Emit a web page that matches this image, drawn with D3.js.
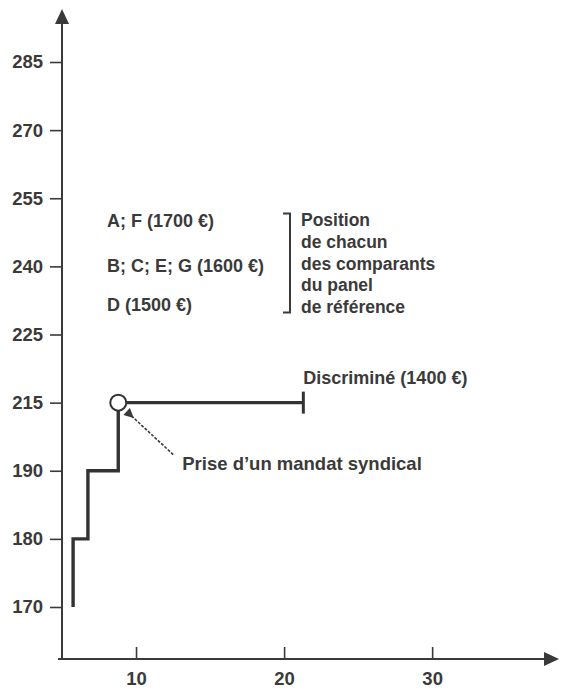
<!DOCTYPE html>
<html>
<head>
<meta charset="utf-8">
<script src="https://cdn.jsdelivr.net/npm/d3@7"></script>
<style>
  body { margin: 0; background: #fff; }
  text { font-family: "Liberation Sans", Arial, sans-serif; font-weight: bold; fill: #3a3a3a; }
</style>
</head>
<body>
<script>
    // Width and height
    var w = 562;
    var h = 690;

    // Data
    var yLevels = ["170", "180", "190", "215", "225", "240", "255", "270", "285"];
    var xTicks = [10, 20, 30];
    var careerX = [5.75, 6.75, 8.8, 21.3];
    var careerY = ["170", "180", "190", "215"];
    var panelLabels = ["A; F (1700 €)", "B; C; E; G (1600 €)", "D (1500 €)"];
    var bracketLines = ["Position", "de chacun", "des comparants", "du panel", "de référence"];
    var endLabel = "Discriminé (1400 €)";
    var mandateLabel = "Prise d’un mandat syndical";

    var ox = 62, oy = 659;

    var x = d3.scaleLinear().domain([5, 38.5]).range([ox, 558]);
    var y = d3.scalePoint().domain(yLevels).range([607, 62]);

    var svg = d3.select("body")
        .append("svg")
        .attr("width", w)
        .attr("height", h);

    svg.append("rect")
        .attr("width", w)
        .attr("height", h)
        .attr("fill", "#fff");

    var ink = "#3a3a3a";

    // Axes (ticks + labels from d3, own lines with arrows)
    var yAxis = svg.append("g")
        .attr("transform", `translate(${ox},0)`)
        .call(d3.axisLeft(y).tickSize(12).tickPadding(7));
    yAxis.select(".domain").remove();
    yAxis.selectAll("line").attr("stroke", ink).attr("stroke-width", 1.6);
    yAxis.selectAll("text").attr("font-size", 18.5).attr("fill", ink)
        .style("font-family", "'Liberation Sans', Arial, sans-serif");

    var xAxis = svg.append("g")
        .attr("transform", `translate(0,${oy})`)
        .call(d3.axisBottom(x).tickValues(xTicks).tickSizeInner(-12).tickSizeOuter(0).tickPadding(13));
    xAxis.select(".domain").remove();
    xAxis.selectAll("line").attr("stroke", ink).attr("stroke-width", 1.6);
    xAxis.selectAll("text").attr("font-size", 18.5).attr("fill", ink)
        .style("font-family", "'Liberation Sans', Arial, sans-serif");

    svg.append("line")
        .attr("x1", ox).attr("y1", oy + 1)
        .attr("x2", ox).attr("y2", 22)
        .attr("stroke", ink).attr("stroke-width", 2);
    svg.append("path")
        .attr("d", `M${ox},9 L${ox - 7},24 L${ox + 7},24 Z`)
        .attr("fill", ink);

    svg.append("line")
        .attr("x1", ox - 4).attr("y1", oy)
        .attr("x2", 546).attr("y2", oy)
        .attr("stroke", ink).attr("stroke-width", 2);
    svg.append("path")
        .attr("d", `M559,${oy} L544,${oy - 7} L544,${oy + 7} Z`)
        .attr("fill", ink);

    // Career step line
    var pts = careerX.map((d, i) => ({x: d, y: careerY[i]}));

    var line = d3.line()
        .x(d => x(d.x))
        .y(d => y(d.y))
        .curve(d3.curveStepBefore);

    svg.append("path")
        .datum(pts)
        .attr("d", line)
        .attr("fill", "none")
        .attr("stroke", "#333")
        .attr("stroke-width", 3.4);

    var last = pts[pts.length - 1];
    svg.append("line")
        .attr("x1", x(last.x)).attr("x2", x(last.x))
        .attr("y1", y(last.y) - 11).attr("y2", y(last.y) + 11)
        .attr("stroke", "#333").attr("stroke-width", 3);

    var turn = pts[2];
    svg.append("circle")
        .attr("cx", x(turn.x))
        .attr("cy", y("215"))
        .attr("r", 8)
        .attr("fill", "#fff")
        .attr("stroke", "#333")
        .attr("stroke-width", 2);

    svg.append("text")
        .attr("x", x(last.x))
        .attr("y", y("215") - 19)
        .attr("font-size", 18)
        .text(endLabel);

    // Mandate annotation with dotted arrow
    svg.append("defs").append("marker")
        .attr("id", "head")
        .attr("viewBox", "0 0 10 10")
        .attr("refX", 2).attr("refY", 5)
        .attr("markerWidth", 7).attr("markerHeight", 6)
        .attr("orient", "auto")
        .append("path")
        .attr("d", "M10,0 L0,5 L10,10 Z")
        .attr("fill", ink);

    var cx = x(turn.x), cy = y("215");
    svg.append("line")
        .attr("x1", cx + 55).attr("y1", cy + 52)
        .attr("x2", cx + 14).attr("y2", cy + 14)
        .attr("stroke", ink)
        .attr("stroke-width", 1.6)
        .attr("stroke-dasharray", "3,1.5")
        .attr("marker-end", "url(#head)");

    svg.append("text")
        .attr("x", cx + 64)
        .attr("y", cy + 67)
        .attr("font-size", 18.5)
        .text(mandateLabel);

    // Reference panel labels
    var by = y("240");
    var panelY = [by - 45, by, by + 39];
    svg.selectAll(".panel")
        .data(panelLabels)
        .enter().append("text")
        .attr("class", "panel")
        .attr("x", 107)
        .attr("y", (d, i) => panelY[i] + 6)
        .attr("font-size", 18)
        .text(d => d);

    svg.append("path")
        .attr("d", `M283,${by - 53} L290,${by - 53} L290,${by + 46} L283,${by + 46}`)
        .attr("fill", "none")
        .attr("stroke", ink)
        .attr("stroke-width", 2);

    svg.selectAll(".bracket")
        .data(bracketLines)
        .enter().append("text")
        .attr("class", "bracket")
        .attr("x", 301)
        .attr("y", (d, i) => by - 40 + i * 21.7)
        .attr("font-size", 17.5)
        .text(d => d);
</script>
</body>
</html>
